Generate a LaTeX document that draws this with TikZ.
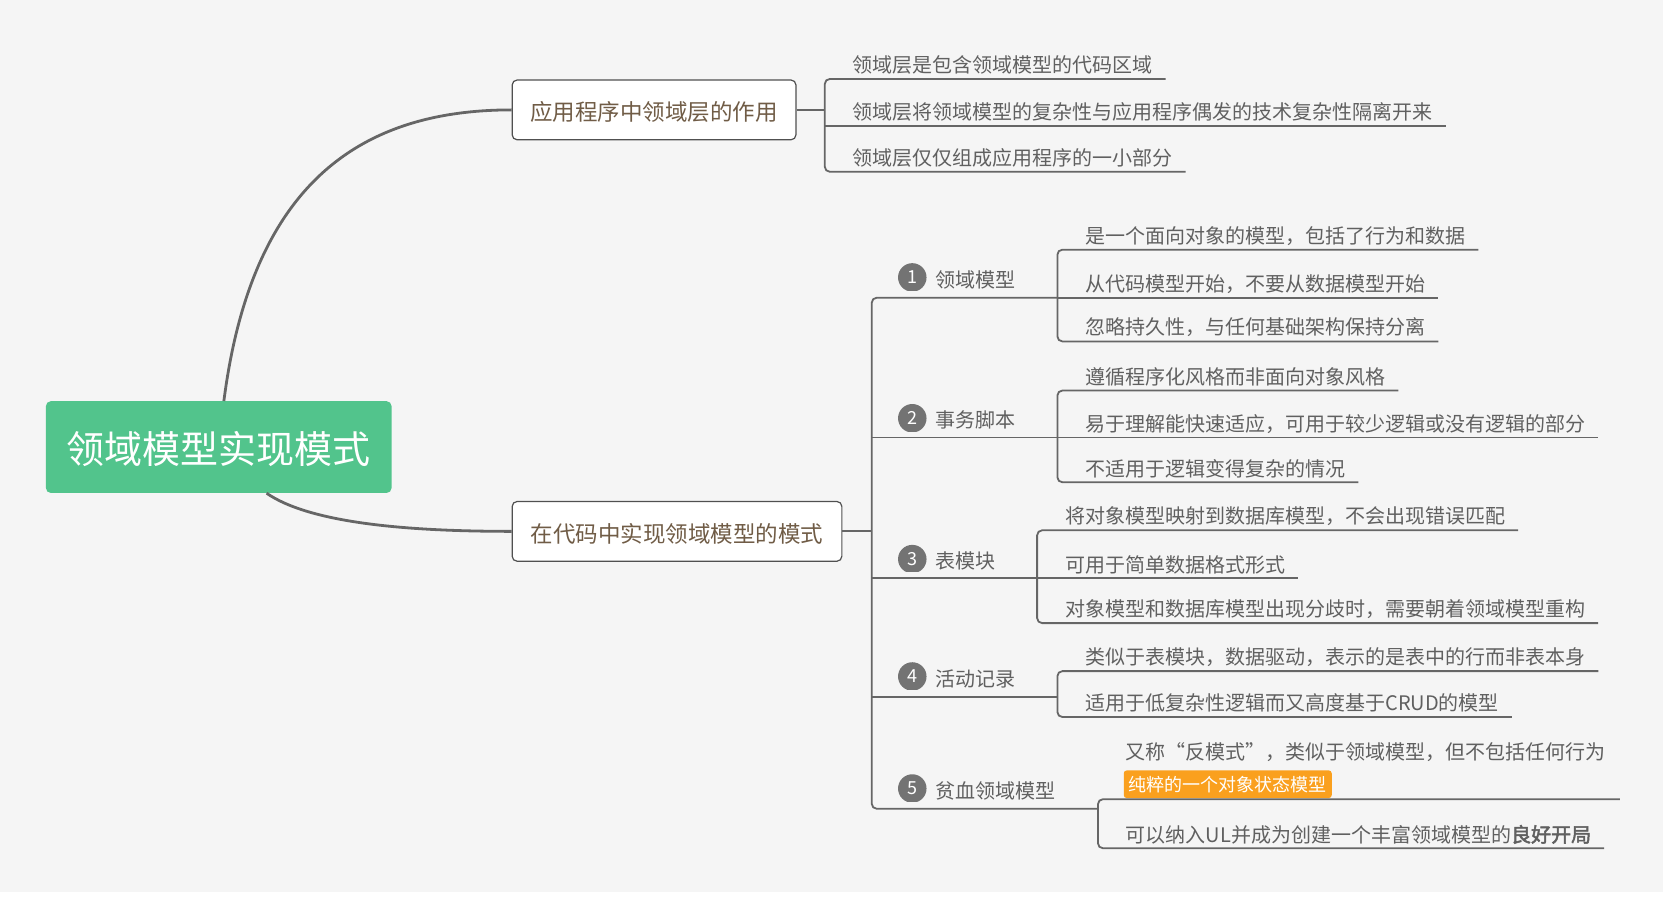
\documentclass[tikz,border=0pt]{standalone}
\usepackage{fontspec}
\setmainfont{Noto Sans CJK SC}[AutoFakeBold=2.5]
\usetikzlibrary{calc}
\definecolor{bgc}{RGB}{245,245,245}
\definecolor{linec}{RGB}{102,102,102}
\definecolor{leafc}{RGB}{96,96,96}
\definecolor{boxt}{RGB}{112,92,70}
\definecolor{rootc}{RGB}{82,196,140}
\definecolor{orangec}{RGB}{250,160,30}
\definecolor{circc}{RGB}{115,115,115}
\definecolor{boxb}{RGB}{80,80,80}
\newcommand\fsz[1]{\fontsize{#1}{#1}\selectfont}
\tikzset{
  rootbox/.style={fill=rootc, rounded corners=5pt, minimum width=345.7pt, minimum height=91.8pt, inner sep=0pt, text=white, font=\fsz{38}, text height=37.4pt, text depth=4.6pt},
  mainbox/.style={draw=boxb, line width=1.2pt, fill=white, rounded corners=5pt, minimum height=59.8pt, inner sep=0pt, text=boxt, font=\fsz{22.5}, text height=24pt, text depth=2.7pt},
  leaf/.style={anchor=west, inner sep=0pt, text=leafc, font=\fsz{20}},
  catl/.style={anchor=west, inner sep=0pt, text=leafc, font=\fsz{20}},
  numc/.style={circle, fill=circc, minimum size=28.5pt, inner sep=0pt, text=white, font=\fsz{18}},
  hilite/.style={anchor=west, fill=orangec, rounded corners=3pt, minimum height=27.7pt, inner xsep=5pt, inner ysep=0pt, text=white, font=\fsz{18}},
  ul/.style={draw=linec, line width=1.8pt},
  curve/.style={draw=linec, line width=2.8pt},
}
\begin{document}
\begin{tikzpicture}[x=1.067pt,y=-1.067pt]
\useasboundingbox (0,0) rectangle (1568.9,841.6);
\fill[white] (0,0) rectangle (1568.9,841.6);
\fill[bgc] (0,0) rectangle (1558.6,836);

% main nodes
\node[rootbox] (root) at (205,419) {领域模型实现模式};
\node[mainbox, minimum width=283.8pt] (b1) at (613,103) {应用程序中领域层的作用};
\node[mainbox, minimum width=329.7pt] (b2) at (634.5,498) {在代码中实现领域模型的模式};

\draw[curve] ($(root.north west)+(167,0)$) .. controls (235,180) and (330,103) .. (b1.west);
\draw[curve] ($(root.south west)+(207,0)$) .. controls (290,490) and (380,498) .. (b2.west);

% branch 1 leaves
\node[leaf] (a1) at (799,61) {领域层是包含领域模型的代码区域};
\node[leaf] (a2) at (799,105) {领域层将领域模型的复杂性与应用程序偶发的技术复杂性隔离开来};
\node[leaf] (a3) at (799,148) {领域层仅仅组成应用程序的一小部分};
\coordinate (j1) at (773,103);
\draw[ul] (b1.east) -- (j1);
\draw[ul, rounded corners=5pt] ($(a1.east)+(12,13)$) -- (773,74) -- (773,161) -- ($(a3.east)+(12,13)$);
\draw[ul] (773,118) -- ($(a2.east)+(12,13)$);

% spine of branch 2
\coordinate (j2) at (817,498);
\draw[ul] (b2.east) -- (j2);
\draw[ul, rounded corners=5pt] (991,279) -- (817,279) -- (817,758) -- (1029,758);
\draw[ul] (817,410) -- (991,410);
\draw[ul] (817,542) -- (972,542);
\draw[ul] (817,653) -- (991,653);

% category markers
\begin{scope}\clip (835,240) rectangle (875,272);\node[numc] (c1) at (855,260) {1};\end{scope}
\begin{scope}\clip (835,372) rectangle (875,404);\node[numc] (c2) at (855,392) {2};\end{scope}
\begin{scope}\clip (835,504) rectangle (875,536);\node[numc] (c3) at (855,524) {3};\end{scope}
\begin{scope}\clip (835,614) rectangle (875,646);\node[numc] (c4) at (855,634) {4};\end{scope}
\begin{scope}\clip (835,719) rectangle (875,751);\node[numc] (c5) at (855,739) {5};\end{scope}
\node[catl] (k1) at (877,262) {领域模型};
\node[catl] (k2) at (877,394) {事务脚本};
\node[catl] (k3) at (877,526) {表模块};
\node[catl] (k4) at (877,636) {活动记录};
\node[catl] (k5) at (877,741) {贫血领域模型};

% category 1
\node[leaf] (p1) at (1017,221) {是一个面向对象的模型，包括了行为和数据};
\node[leaf] (p2) at (1017,266) {从代码模型开始，不要从数据模型开始};
\node[leaf] (p3) at (1017,307) {忽略持久性，与任何基础架构保持分离};
\draw[ul, rounded corners=5pt] ($(p1.east)+(12,13)$) -- (991,234) -- (991,320) -- ($(p3.east)+(12,13)$);
\draw[ul] (991,279) -- ($(p2.east)+(12,13)$);

% category 2
\node[leaf] (q1) at (1017,353) {遵循程序化风格而非面向对象风格};
\node[leaf] (q2) at (1017,397) {易于理解能快速适应，可用于较少逻辑或没有逻辑的部分};
\node[leaf] (q3) at (1017,439) {不适用于逻辑变得复杂的情况};
\draw[ul, rounded corners=5pt] ($(q1.east)+(12,13)$) -- (991,366) -- (991,452) -- ($(q3.east)+(12,13)$);
\draw[ul] (991,410) -- ($(q2.east)+(12,13)$);

% category 3
\node[leaf] (r1) at (998,484) {将对象模型映射到数据库模型，不会出现错误匹配};
\node[leaf] (r2) at (998,529) {可用于简单数据格式形式};
\node[leaf] (r3) at (998,571) {对象模型和数据库模型出现分歧时，需要朝着领域模型重构};
\draw[ul, rounded corners=5pt] ($(r1.east)+(12,13)$) -- (972,497) -- (972,584) -- ($(r3.east)+(12,13)$);
\draw[ul] (972,542) -- ($(r2.east)+(12,13)$);

% category 4
\node[leaf] (s1) at (1017,616) {类似于表模块，数据驱动，表示的是表中的行而非表本身};
\node[leaf] (s2) at (1017,659) {适用于低复杂性逻辑而又高度基于CRUD的模型};
\draw[ul, rounded corners=5pt] ($(s1.east)+(12,13)$) -- (991,629) -- (991,672) -- ($(s2.east)+(12,13)$);

% category 5
\node[leaf] (e1) at (1055,705) {又称“反模式”，类似于领域模型，但不包括任何行为};
\node[hilite] (e3) at (1053,735) {纯粹的一个对象状态模型};
\node[leaf] (e2) at (1055,782) {可以纳入UL并成为创建一个丰富领域模型的\textbf{良好开局}};
\draw[ul, rounded corners=5pt] ($(e1.east)+(13,44)$) -- (1029,749) -- (1029,795) -- ($(e2.east)+(12,13)$);
\end{tikzpicture}
\end{document}
